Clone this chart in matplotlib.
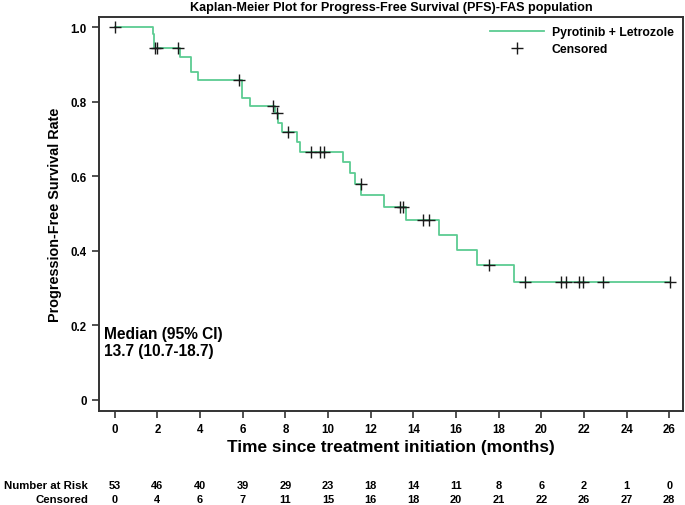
import numpy as np
import matplotlib
matplotlib.use("Agg")
import matplotlib.pyplot as plt
from matplotlib.lines import Line2D
from matplotlib.transforms import blended_transform_factory

plt.rcParams['font.family'] = ['Liberation Sans', 'DejaVu Sans']
plt.rcParams['font.weight'] = 'bold'

# Kaplan-Meier step curve (times of drops and survival after each drop)
step_times = [0.0, 1.80, 1.85, 3.07, 3.57, 3.91, 5.99, 6.35, 7.51, 7.68, 7.85,
              8.53, 8.69, 10.69, 11.03, 11.27, 11.55, 12.64, 13.66, 15.22,
              16.07, 17.00, 18.70]
step_surv = [1.0, 0.981, 0.943, 0.921, 0.880, 0.857, 0.811, 0.789, 0.770, 0.743,
             0.718, 0.691, 0.666, 0.637, 0.608, 0.578, 0.549, 0.518, 0.483,
             0.442, 0.402, 0.361, 0.316]
end_time = 26.02

censor_times = [0.02, 1.90, 1.97, 2.97, 5.82, 7.40, 7.59, 8.14, 9.19, 9.62,
                9.81, 11.53, 13.38, 13.50, 14.47, 14.76, 17.54, 19.26, 20.94,
                21.17, 21.75, 21.96, 22.90, 26.02]

risk_times = [0, 2, 4, 6, 8, 10, 12, 14, 16, 18, 20, 22, 24, 26]
n_at_risk = [53, 46, 40, 39, 29, 23, 18, 14, 11, 8, 6, 2, 1, 0]
n_censored = [0, 4, 6, 7, 11, 15, 16, 18, 20, 21, 22, 26, 27, 28]

yticks = [0, 0.2, 0.4, 0.6, 0.8, 1.0]
ytick_labels = ['0', '0.2', '0.4', '0.6', '0.8', '1.0']

line_color = '#5ccc92'
mark_color = '#1a1a1a'

fig = plt.figure(figsize=(6.85, 5.06), dpi=100)
ax = fig.add_axes([0.145, 0.1864, 0.8516, 0.778])

xs = list(step_times) + [end_time]
ys = list(step_surv) + [step_surv[-1]]
ax.step(xs, ys, where='post', color=line_color, lw=1.3)

st = np.array(step_times)
sv = np.array(step_surv)
cy = [sv[np.searchsorted(st, t, side='right') - 1] for t in censor_times]
ax.plot(censor_times, cy, linestyle='none', marker='+', color=mark_color,
        markersize=8, markeredgewidth=1.0)

ax.set_xlim(-0.72, 26.63)
ax.set_ylim(-0.0287, 1.027)
ax.set_xticks(risk_times)
ax.set_xticklabels([str(t) for t in risk_times])
ax.set_yticks(yticks)
ax.set_yticklabels(ytick_labels)
ax.tick_params(axis='both', direction='out', length=5, width=1.2,
               color='#333333', labelsize=8.3, pad=4)
for lab in ax.get_xticklabels() + ax.get_yticklabels():
    lab.set_fontweight('bold')
for sp in ax.spines.values():
    sp.set_linewidth(1.4)
    sp.set_color('#333333')

ax.set_xlabel('Time since treatment initiation (months)', fontsize=12.4,
              fontweight='bold', labelpad=3)
ax.set_ylabel('Progression-Free Survival Rate', fontsize=10.4,
              fontweight='bold', labelpad=6)

ax.set_title('Kaplan-Meier Plot for Progress-Free Survival (PFS)-FAS population',
             fontsize=9.1, fontweight='bold', pad=5)

ax.text(-0.5, 0.179, 'Median (95% CI)', fontsize=11.2, fontweight='bold',
        va='center', ha='left')
ax.text(-0.5, 0.134, '13.7 (10.7-18.7)', fontsize=11.2, fontweight='bold',
        va='center', ha='left')

handles = [Line2D([], [], color=line_color, lw=1.3),
           Line2D([], [], linestyle='none', marker='+', color=mark_color,
                  markersize=8, markeredgewidth=1.0)]
leg = ax.legend(handles, ['Pyrotinib + Letrozole', 'Censored'], loc='upper right',
                frameon=False, fontsize=8.8, handlelength=4.4, handletextpad=0.65,
                labelspacing=0.42, borderaxespad=0.3, borderpad=0.45)
for t in leg.get_texts():
    t.set_fontweight('bold')

tr = blended_transform_factory(ax.transData, fig.transFigure)
fig.text(0.1285, 0.040, 'Number at Risk', ha='right', va='center',
         fontsize=8.2, fontweight='bold')
fig.text(0.1285, 0.011, 'Censored', ha='right', va='center',
         fontsize=8.2, fontweight='bold')
for t, n, c in zip(risk_times, n_at_risk, n_censored):
    ax.text(t, 0.040, str(n), transform=tr, ha='center', va='center',
            fontsize=7.9, fontweight='bold', clip_on=False)
    ax.text(t, 0.011, str(c), transform=tr, ha='center', va='center',
            fontsize=7.9, fontweight='bold', clip_on=False)

fig.savefig('out.png', dpi=100)
